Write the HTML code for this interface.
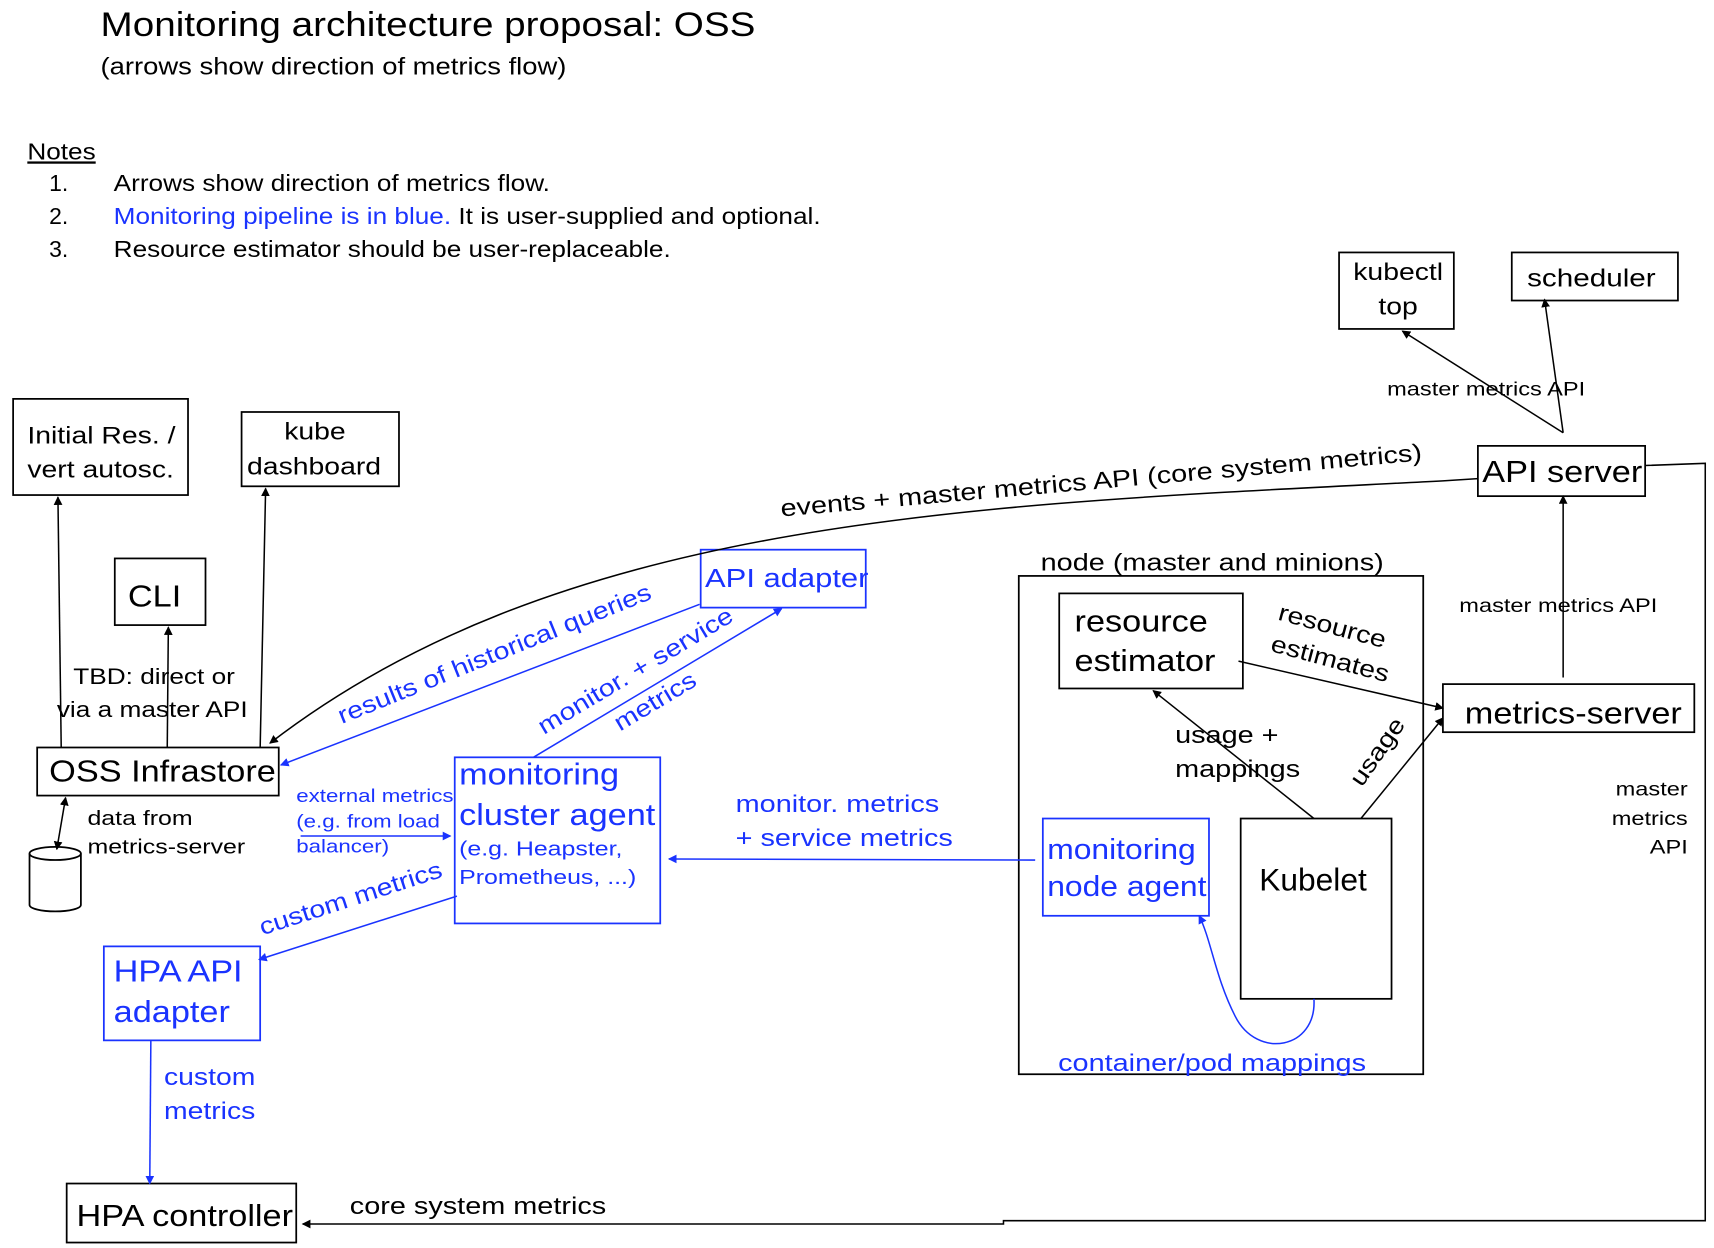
<!DOCTYPE html>
<html><head><meta charset="utf-8"><style>
html,body{margin:0;padding:0;background:#fff;}
svg{display:block;font-family:"Liberation Sans",Arial,sans-serif;}
svg text:not([transform]){transform-box:fill-box;transform-origin:0 50%;}
svg text.m:not([transform]){transform-origin:50% 50%;}
svg text.e:not([transform]){transform-origin:100% 50%;}
svg text.a:not([transform]){transform:scaleX(1.12);}
svg text.b:not([transform]){transform:scaleX(1.18);}
svg text.c:not([transform]){transform:scaleX(1.2);}
svg text.t:not([transform]){transform:scaleX(1.14);}
</style></head><body>
<svg width="1714" height="1248" viewBox="0 0 1568 1142" preserveAspectRatio="none" xmlns="http://www.w3.org/2000/svg">
<defs>
<marker id="ab" markerWidth="8" markerHeight="8" refX="7" refY="4" orient="auto" markerUnits="userSpaceOnUse"><path d="M0,0 L8,4 L0,8 z" fill="#000"/></marker>
<marker id="abs" markerWidth="8" markerHeight="8" refX="1" refY="4" orient="auto" markerUnits="userSpaceOnUse"><path d="M8,0 L0,4 L8,8 z" fill="#000"/></marker>
<marker id="bb" markerWidth="8" markerHeight="8" refX="7" refY="4" orient="auto" markerUnits="userSpaceOnUse"><path d="M0,0 L8,4 L0,8 z" fill="#1a33ff"/></marker>
</defs>
<g fill="#000">
<text class="t" x="92" y="33" font-size="31">Monitoring architecture proposal: OSS</text>
<text class="t" x="92" y="68" font-size="22">(arrows show direction of metrics flow)</text>
<text class="t" x="25" y="146" font-size="21" text-decoration="underline">Notes</text>
<text x="45" y="175" font-size="21">1.</text><text class="t" x="104" y="175" font-size="21">Arrows show direction of metrics flow.</text>
<text x="45" y="205" font-size="21">2.</text><text class="t" x="104" y="205" font-size="21"><tspan fill="#1a33ff">Monitoring pipeline is in blue.</tspan> It is user-supplied and optional.</text>
<text x="45" y="235" font-size="21">3.</text><text class="t" x="104" y="235" font-size="21">Resource estimator should be user-replaceable.</text>
</g>
<g fill="none" stroke="#000" stroke-width="1.6">
<rect x="1225" y="231" width="105" height="70"/>
<rect x="1383" y="231" width="152" height="44"/>
<rect x="1352" y="408" width="153" height="46"/>
<rect x="12" y="365" width="160" height="88"/>
<rect x="221" y="377" width="144" height="68"/>
<rect x="105" y="511" width="83" height="61"/>
<rect x="34" y="684" width="221" height="44"/>
<rect x="61" y="1083" width="210" height="54"/>
<rect x="932" y="527" width="370" height="456"/>
<rect x="969" y="543" width="168" height="87"/>
<rect x="1320" y="626" width="230" height="44"/>
<rect x="1135" y="749" width="138" height="165"/>
<path d="M27,781 V828 A23.5,6 0 0 0 74,828 V781"/>
<ellipse cx="50.5" cy="781" rx="23.5" ry="6"/>
</g>
<g fill="none" stroke="#1a33ff" stroke-width="1.6">
<rect x="641" y="503" width="151" height="53"/>
<rect x="416" y="693" width="188" height="152"/>
<rect x="95" y="866" width="143" height="86"/>
<rect x="954" y="749" width="152" height="89"/>
</g>
<g fill="none" stroke="#000" stroke-width="1.4">
<line x1="1430" y1="396" x2="1283" y2="303" marker-end="url(#ab)"/>
<line x1="1430" y1="396" x2="1413" y2="274" marker-end="url(#ab)"/>
<line x1="1430" y1="620" x2="1430" y2="454" marker-end="url(#ab)"/>
<polyline points="1505,426 1560,424 1560,1117 918,1117 918,1120 277,1120" marker-end="url(#ab)"/>
<path d="M1352,438 L1320,440 C900,462 520,470 247,680" marker-end="url(#ab)"/>
<line x1="56" y1="684" x2="53" y2="455" marker-end="url(#ab)"/>
<line x1="238" y1="684" x2="243" y2="447" marker-end="url(#ab)"/>
<line x1="153" y1="684" x2="154" y2="574" marker-end="url(#ab)"/>
<line x1="60" y1="730" x2="52" y2="777" marker-start="url(#abs)" marker-end="url(#ab)"/>
<line x1="1133" y1="605" x2="1320" y2="648" marker-end="url(#ab)"/>
<line x1="1245" y1="749" x2="1320" y2="657" marker-end="url(#ab)"/>
<line x1="1202" y1="749" x2="1055" y2="632" marker-end="url(#ab)"/>
</g>
<g fill="none" stroke="#1a33ff" stroke-width="1.4">
<line x1="640" y1="553" x2="257" y2="700" marker-end="url(#bb)"/>
<line x1="488" y1="693" x2="715" y2="557" marker-end="url(#bb)"/>
<line x1="275" y1="765" x2="412" y2="765" marker-end="url(#bb)"/>
<line x1="418" y1="820" x2="237" y2="878" marker-end="url(#bb)"/>
<line x1="138" y1="952" x2="137" y2="1083" marker-end="url(#bb)"/>
<line x1="947" y1="787" x2="612" y2="786" marker-end="url(#bb)"/>
<path d="M1202,914 C1205,960 1150,970 1130,930 C1112,895 1108,860 1097,838" marker-end="url(#bb)"/>
</g>
<g fill="#000">
<text class="b" x="1238" y="256" font-size="22">kubectl</text>
<text class="b" x="1261" y="288" font-size="22">top</text>
<text class="b" x="1397" y="262" font-size="23">scheduler</text>
<text class="a" x="1356" y="441" font-size="28">API server</text>
<text class="b" x="25" y="406" font-size="22">Initial Res. /</text>
<text class="b" x="25" y="437" font-size="22">vert autosc.</text>
<text class="b" x="260" y="402" font-size="22">kube</text>
<text class="b" x="226" y="434" font-size="22">dashboard</text>
<text class="a" x="117" y="555" font-size="28">CLI</text>
<text class="a" x="45" y="715" font-size="28">OSS Infrastore</text>
<text class="a" x="70" y="1122" font-size="28">HPA controller</text>
<text class="c" x="952" y="522" font-size="22">node (master and minions)</text>
<text class="a" x="983" y="578" font-size="28">resource</text>
<text class="a" x="983" y="614" font-size="28">estimator</text>
<text class="a" x="1340" y="662" font-size="28">metrics-server</text>
<text x="1152" y="815" font-size="29">Kubelet</text>
<text class="c" x="1269" y="362" font-size="18">master metrics API</text>
<text class="c" x="1335" y="560" font-size="18">master metrics API</text>
<text class="c e" x="1544" y="728" font-size="18" text-anchor="end">master</text>
<text class="c e" x="1544" y="755" font-size="18" text-anchor="end">metrics</text>
<text class="c e" x="1544" y="781" font-size="18" text-anchor="end">API</text>
<text class="c" x="320" y="1111" font-size="22">core system metrics</text>
<text font-size="22" text-anchor="middle" transform="translate(1008,447) rotate(-5) scale(1.2,1)">events + master metrics API (core system metrics)</text>
<text class="c" x="67" y="626" font-size="20">TBD: direct or</text>
<text class="c" x="52" y="656" font-size="20">via a master API</text>
<text class="c" x="80" y="755" font-size="19">data from</text>
<text class="c" x="80" y="781" font-size="19">metrics-server</text>
<text font-size="22" text-anchor="middle" transform="translate(1217,580) rotate(15) scale(1.18,1)">resource</text>
<text font-size="22" text-anchor="middle" transform="translate(1215,610) rotate(15) scale(1.18,1)">estimates</text>
<text font-size="22" text-anchor="middle" transform="translate(1266,692) rotate(-55) scale(1.18,1)">usage</text>
<text class="c" x="1075" y="680" font-size="22">usage +</text>
<text class="c" x="1075" y="711" font-size="22">mappings</text>
</g>
<g fill="#1a33ff">
<text class="b" x="645" y="537" font-size="24">API adapter</text>
<text class="a" x="420" y="718" font-size="28">monitoring</text>
<text class="a" x="420" y="755" font-size="28">cluster agent</text>
<text class="c" x="420" y="783" font-size="19">(e.g. Heapster,</text>
<text class="c" x="420" y="809" font-size="19">Prometheus, ...)</text>
<text class="a" x="104" y="898" font-size="28">HPA API</text>
<text class="a" x="104" y="935" font-size="28">adapter</text>
<text class="a" x="958" y="786" font-size="26">monitoring</text>
<text class="a" x="958" y="820" font-size="26">node agent</text>
<text class="c" x="271" y="734" font-size="17">external metrics</text>
<text class="c" x="271" y="757" font-size="17">(e.g. from load</text>
<text class="c" x="271" y="780" font-size="17">balancer)</text>
<text class="b" x="150" y="993" font-size="22">custom</text>
<text class="b" x="150" y="1024" font-size="22">metrics</text>
<text class="c" x="673" y="743" font-size="22">monitor. metrics</text>
<text class="c" x="673" y="774" font-size="22">+ service metrics</text>
<text class="c" x="968" y="980" font-size="22">container/pod mappings</text>
<text font-size="22" text-anchor="middle" transform="translate(455,605) rotate(-22) scale(1.18,1)">results of historical queries</text>
<text font-size="22" text-anchor="middle" transform="translate(585,620) rotate(-31) scale(1.18,1)">monitor. + service</text>
<text font-size="22" text-anchor="middle" transform="translate(603,648) rotate(-31) scale(1.18,1)">metrics</text>
<text font-size="22" text-anchor="middle" transform="translate(323,829) rotate(-18) scale(1.18,1)">custom metrics</text>
</g>
</svg>
</body></html>
